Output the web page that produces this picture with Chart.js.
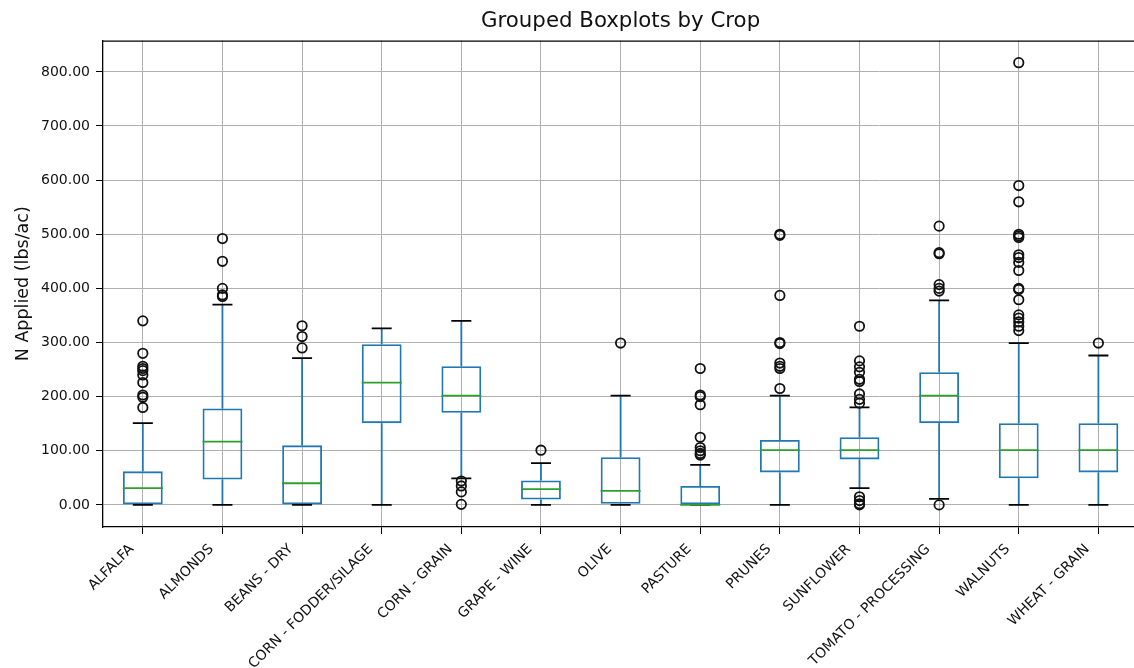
<!DOCTYPE html>
<html>
<head>
<meta charset="utf-8">
<script src="https://cdn.jsdelivr.net/npm/chart.js@4.4.1/dist/chart.umd.min.js"></script>
<style>
  html, body { margin: 0; padding: 0; overflow: hidden; background: #fff; }
  canvas { display: block; }
</style>
</head>
<body>
<canvas id="chart" width="1160" height="668"></canvas>
<script>
// Nitrogen applied per crop: five-number summaries plus outliers (lbs/ac)
const crops = ['ALFALFA', 'ALMONDS', 'BEANS - DRY', 'CORN - FODDER/SILAGE', 'CORN - GRAIN',
  'GRAPE - WINE', 'OLIVE', 'PASTURE', 'PRUNES', 'SUNFLOWER', 'TOMATO - PROCESSING',
  'WALNUTS', 'WHEAT - GRAIN'];
const whiskerLow  = [0, 0, 0, 0, 49, 0, 0, 0, 0, 31, 11, 0, 0];
const q1          = [0, 47, 0, 151, 170, 10, 2, 0, 60, 84, 151, 49, 60];
const medians     = [31, 117, 40, 226, 202, 29, 26, 0, 101, 101, 202, 101, 101];
const q3          = [62, 178, 110, 297, 256, 45, 88, 35, 120, 125, 245, 151, 151];
const whiskerHigh = [151, 370, 271, 326, 340, 77, 202, 74, 202, 180, 378, 299, 276];
const fliers = [
  [340, 280, 256, 252, 248, 240, 226, 203, 199, 180],
  [492, 450, 400, 388, 385],
  [331, 311, 290],
  [],
  [44, 35, 24, 1],
  [101],
  [299],
  [252, 203, 200, 185, 125, 106, 100, 95, 92],
  [500, 498, 387, 300, 298, 262, 256, 252, 215],
  [330, 266, 255, 245, 232, 228, 205, 195, 188, 15, 8, 2, 0],
  [515, 466, 464, 407, 400, 395, 0],
  [817, 590, 560, 500, 497, 494, 462, 457, 448, 433, 400, 398, 379, 351, 345, 338, 330, 322],
  [299]
];
const yTicks = [0, 100, 200, 300, 400, 500, 600, 700, 800];

const positions = crops.map((_, i) => i + 1);
const BLUE = '#1f77b4';
const GREEN = '#2ca02c';
const FONT = 'DejaVu Sans';

Chart.defaults.font.family = FONT;
Chart.defaults.color = '#000';

const boxData = positions.map((x, i) => ({ x, y: [q1[i], q3[i]] }));
const medianData = positions.map((x, i) => ({ x, y: medians[i] }));
const capData = positions.flatMap((x, i) => [{ x, y: whiskerLow[i] }, { x, y: whiskerHigh[i] }]);
const whiskerData = positions.flatMap((x, i) => [
  { x, y: whiskerLow[i] }, { x, y: q1[i] }, { x, y: null },
  { x, y: q3[i] }, { x, y: whiskerHigh[i] }, { x, y: null }
]);
const flierData = positions.flatMap((x, i) => fliers[i].map(v => ({ x, y: v })));

// Frame along the top and right of the plotting area
const frame = {
  id: 'frame',
  afterDatasetsDraw(chart) {
    const { ctx, chartArea: { left, top, right, bottom } } = chart;
    ctx.save();
    ctx.strokeStyle = '#000';
    ctx.lineWidth = 1.3;
    ctx.beginPath();
    ctx.moveTo(left, top + 0.5);
    ctx.lineTo(right, top + 0.5);
    ctx.moveTo(right - 0.5, top);
    ctx.lineTo(right - 0.5, bottom);
    ctx.stroke();
    ctx.restore();
  }
};

const tickFont = { family: FONT, size: 14 };

new Chart(document.getElementById('chart'), {
  type: 'bar',
  data: {
    datasets: [
      {
        type: 'scatter', data: flierData, order: 1,
        pointStyle: 'circle', pointRadius: 4.7, pointBorderWidth: 1.8,
        pointBackgroundColor: 'rgba(0,0,0,0)', pointBorderColor: '#111'
      },
      {
        type: 'scatter', data: medianData, order: 2,
        pointStyle: 'line', pointRadius: 20, pointBorderWidth: 1.8,
        pointBorderColor: GREEN, pointBackgroundColor: GREEN
      },
      {
        type: 'scatter', data: capData, order: 3,
        pointStyle: 'line', pointRadius: 10, pointBorderWidth: 1.8,
        pointBorderColor: '#000', pointBackgroundColor: '#000'
      },
      {
        type: 'line', data: whiskerData, order: 4,
        borderColor: BLUE, borderWidth: 1.8, pointRadius: 0,
        spanGaps: false, fill: false, tension: 0
      },
      {
        type: 'bar', data: boxData, order: 5,
        backgroundColor: 'rgba(0,0,0,0)', borderColor: BLUE, borderWidth: 1.8,
        borderSkipped: false, barPercentage: 0.5, categoryPercentage: 1.0
      }
    ]
  },
  options: {
    responsive: false,
    animation: false,
    devicePixelRatio: 1,
    layout: { padding: { left: 0, right: 18, top: 0, bottom: 0 } },
    plugins: {
      legend: { display: false },
      tooltip: { enabled: false },
      title: {
        display: true, text: 'Grouped Boxplots by Crop', fullSize: false,
        font: { family: FONT, size: 21.3, weight: 'normal' }, color: '#111',
        padding: { top: 9, bottom: 6 }
      }
    },
    scales: {
      x: {
        type: 'linear', min: 0.5, max: 13.5, offset: false,
        afterBuildTicks: s => { s.ticks = positions.map(v => ({ value: v })); },
        afterFit: s => { s.height = 141; },
        ticks: {
          autoSkip: false, minRotation: 45, maxRotation: 45, padding: 7, labelOffset: -11,
          font: tickFont, color: '#111',
          callback: v => crops[v - 1]
        },
        grid: { offset: false, color: '#b0b0b0', lineWidth: 1, tickColor: '#000', tickLength: 7, drawTicks: true },
        border: { display: true, color: '#000', width: 1.3 }
      },
      y: {
        type: 'linear', min: -40.85, max: 857.85,
        afterBuildTicks: s => { s.ticks = yTicks.map(v => ({ value: v })); },
        afterFit: s => { s.width = 103; },
        ticks: { padding: 6, font: tickFont, color: '#111', callback: v => v.toFixed(2) },
        grid: { color: '#b0b0b0', lineWidth: 1, tickColor: '#000', tickLength: 7, drawTicks: true },
        border: { display: true, color: '#000', width: 1.3 },
        title: {
          display: true, text: 'N Applied (lbs/ac)', color: '#111',
          font: { family: FONT, size: 17.5 }, padding: { top: 13, bottom: 0 }
        }
      }
    }
  },
  plugins: [frame]
});
</script>
</body>
</html>
